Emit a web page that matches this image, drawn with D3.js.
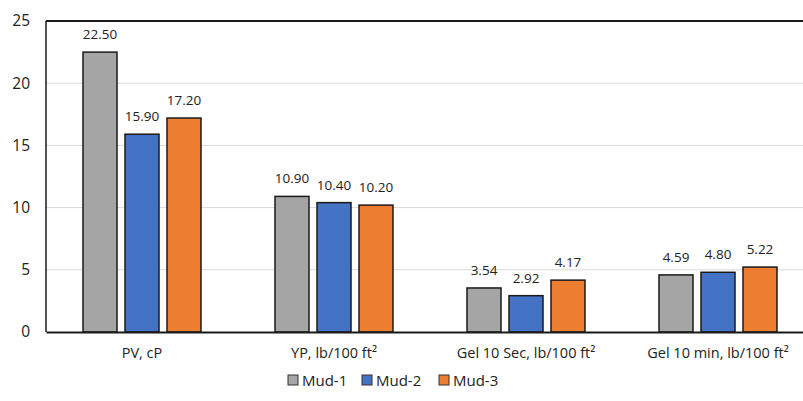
<!DOCTYPE html>
<html>
<head>
<meta charset="utf-8">
<script src="https://cdn.jsdelivr.net/npm/d3@7"></script>
<style>
  html, body { margin: 0; padding: 0; background: #fff; }
  svg { display: block; }
  text { font-family: "Open Sans", "Noto Sans", sans-serif; fill: #222; }
</style>
</head>
<body>
<svg id="chart" width="803" height="401"></svg>
<script>
const categories = ["PV, cP", "YP, lb/100 ft²", "Gel 10 Sec, lb/100 ft²", "Gel 10 min, lb/100 ft²"];
const seriesNames = ["Mud-1", "Mud-2", "Mud-3"];
const mud1 = [22.50, 10.90, 3.54, 4.59];
const mud2 = [15.90, 10.40, 2.92, 4.80];
const mud3 = [17.20, 10.20, 4.17, 5.22];
const yTicks = [0, 5, 10, 15, 20, 25];
const colors = ["#A5A5A5", "#4472C4", "#ED7D31"];

const seriesValues = [mud1, mud2, mud3];
const svg = d3.select("#chart");

const mLeft = 46, mTop = 21, mBottom = 332, mRight = 814;
const groupW = 118;

const x0 = d3.scaleBand().domain(categories).range([mLeft, mRight]).paddingInner(0).paddingOuter(0);
const x1 = d3.scaleBand().domain(seriesNames).range([0, groupW]).paddingInner(0.19).paddingOuter(0);
const y = d3.scaleLinear().domain([0, 25]).range([mBottom, mTop]);

// gridlines
svg.append("g").selectAll("line").data(yTicks.filter(t => t > 0 && t < 25)).join("line")
  .attr("x1", mLeft).attr("x2", mRight)
  .attr("y1", d => y(d)).attr("y2", d => y(d))
  .attr("stroke", "#D9D9D9").attr("stroke-width", 1);

// plot border
svg.append("line").attr("x1", mLeft).attr("x2", mRight).attr("y1", y(25)).attr("y2", y(25))
  .attr("stroke", "#1a1a1a").attr("stroke-width", 2);
svg.append("line").attr("x1", mLeft).attr("x2", mLeft).attr("y1", y(25)).attr("y2", y(0))
  .attr("stroke", "#1a1a1a").attr("stroke-width", 1.5);

// y axis labels
const yAxis = d3.axisLeft(y).tickValues(yTicks).tickSize(0).tickPadding(16);
const ya = svg.append("g").attr("transform", `translate(${mLeft},0)`).call(yAxis);
ya.select(".domain").remove();
ya.selectAll("text").style("font-family", '"Open Sans", "Noto Sans", sans-serif')
  .style("font-size", "15.5px").attr("fill", "#222");

// bars
const groups = svg.append("g").selectAll("g").data(categories).join("g")
  .attr("transform", d => `translate(${x0(d) + x0.bandwidth() / 2 - groupW / 2},0)`);

groups.each(function(cat, ci) {
  const g = d3.select(this);
  seriesNames.forEach((s, si) => {
    const v = seriesValues[si][ci];
    g.append("rect")
      .attr("x", x1(s))
      .attr("y", y(v))
      .attr("width", x1.bandwidth())
      .attr("height", y(0) - y(v))
      .attr("fill", colors[si])
      .attr("stroke", "#1a1a1a")
      .attr("stroke-width", 1.5);
    g.append("text")
      .attr("x", x1(s) + x1.bandwidth() / 2)
      .attr("y", y(v) - 13)
      .attr("text-anchor", "middle")
      .style("font-size", "13.5px")
      .text(v.toFixed(2));
  });
});

// x axis
const xAxis = d3.axisBottom(x0).tickSize(0).tickPadding(16);
const xa = svg.append("g").attr("transform", `translate(0,${mBottom})`).call(xAxis);
xa.select(".domain").attr("stroke", "#1a1a1a").attr("stroke-width", 2);
xa.selectAll("text").style("font-family", '"Open Sans", "Noto Sans", sans-serif')
  .style("font-size", "14.5px").attr("fill", "#222");

// legend
const legendX = [288, 362, 439];
const legend = svg.append("g").selectAll("g").data(seriesNames).join("g")
  .attr("transform", (d, i) => `translate(${legendX[i]},375)`);
legend.append("rect").attr("width", 10).attr("height", 10)
  .attr("fill", (d, i) => colors[i]).attr("stroke", "#333").attr("stroke-width", 1);
legend.append("text").attr("x", 14).attr("y", 10.5)
  .style("font-size", "15px").text(d => d);
</script>
</body>
</html>
